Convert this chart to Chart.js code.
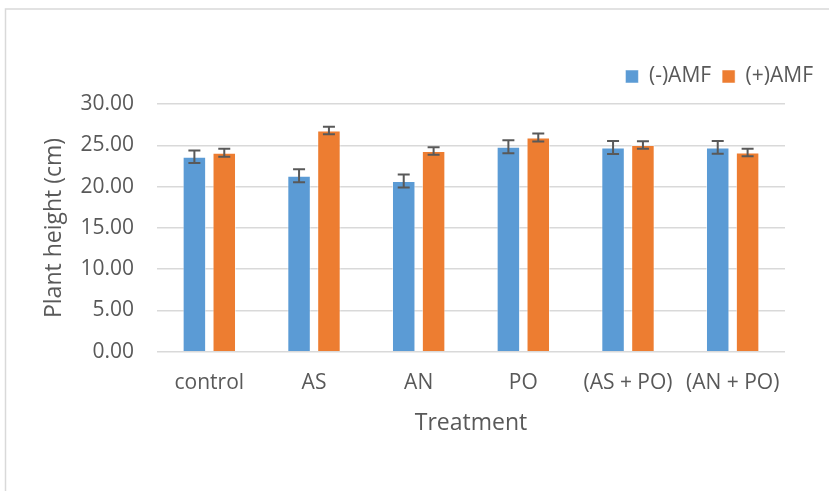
<!DOCTYPE html>
<html lang="en">
<head>
    <meta charset="UTF-8">
    <title>Plant height by treatment</title>
    <script src="https://cdn.jsdelivr.net/npm/chart.js"></script>
    <style>
        body {
            margin: 0;
            background: #fff;
        }
        #plantChart {
            display: block;
        }
    </style>
</head>
<body>
    <canvas id="plantChart" width="829" height="491"></canvas>
<script>
    // Podaci procitani sa grafa
    const treatments = ['control', 'AS', 'AN', 'PO', '(AS + PO)', '(AN + PO)'];
    const seriesNames = ['(-)AMF', '(+)AMF'];
    const minusAMF = [23.63, 21.32, 20.68, 24.84, 24.76, 24.76];
    const minusAMFErr = [0.77, 0.79, 0.79, 0.79, 0.79, 0.77];
    const plusAMF = [24.12, 26.82, 24.32, 25.97, 25.05, 24.15];
    const plusAMFErr = [0.49, 0.46, 0.46, 0.49, 0.45, 0.46];
    const yTicks = [0, 5, 10, 15, 20, 25, 30];

    const textColor = '#595959';
    const gridColor = '#d9d9d9';
    const fontFamily = "'Open Sans', 'Noto Sans', sans-serif";

    // siva okvir oko cijelog grafa
    const frame = {
        id: 'frame',
        beforeDraw(chart) {
            const ctx = chart.ctx;
            ctx.save();
            ctx.fillStyle = '#fff';
            ctx.fillRect(0, 0, chart.width, chart.height);
            ctx.strokeStyle = gridColor;
            ctx.lineWidth = 1.5;
            ctx.strokeRect(5.5, 9, 900, 600);
            ctx.restore();
        }
    };

    // error barovi preko skale
    const errorBars = {
        id: 'errorBars',
        afterDatasetsDraw(chart) {
            const ctx = chart.ctx;
            const y = chart.scales.y;
            ctx.save();
            ctx.strokeStyle = '#595959';
            ctx.lineWidth = 2;
            chart.data.datasets.forEach((ds, i) => {
                const meta = chart.getDatasetMeta(i);
                meta.data.forEach((bar, j) => {
                    const v = ds.data[j];
                    const e = ds.errors[j];
                    const top = y.getPixelForValue(v + e);
                    const bot = y.getPixelForValue(v - e);
                    const cap = 6;
                    ctx.beginPath();
                    ctx.moveTo(bar.x, top);
                    ctx.lineTo(bar.x, bot);
                    ctx.moveTo(bar.x - cap, top);
                    ctx.lineTo(bar.x + cap, top);
                    ctx.moveTo(bar.x - cap, bot);
                    ctx.lineTo(bar.x + cap, bot);
                    ctx.stroke();
                });
            });
            ctx.restore();
        }
    };

    const ctx = document.getElementById('plantChart').getContext('2d');
    const chart = new Chart(ctx, {
        type: 'bar',
        data: {
            labels: treatments,
            datasets: [{
                label: seriesNames[0],
                data: minusAMF,
                errors: minusAMFErr,
                backgroundColor: '#5B9BD5',
                borderColor: 'rgba(255,255,255,0.5)',
                borderWidth: 1
            }, {
                label: seriesNames[1],
                data: plusAMF,
                errors: plusAMFErr,
                backgroundColor: '#ED7D31',
                borderColor: 'rgba(255,255,255,0.5)',
                borderWidth: 1
            }]
        },
        options: {
            responsive: false,
            animation: false,
            categoryPercentage: 0.571,
            barPercentage: 0.786,
            layout: {
                padding: { top: 55, right: 5, bottom: 39.3, left: 0 }
            },
            plugins: {
                tooltip: { enabled: false },
                legend: {
                    position: 'top',
                    align: 'end',
                    labels: {
                        boxWidth: 13,
                        boxHeight: 13,
                        padding: 11,
                        color: textColor,
                        font: { family: fontFamily, size: 21 }
                    }
                }
            },
            scales: {
                x: {
                    grid: { display: false, drawTicks: false },
                    border: { display: false },
                    ticks: {
                        color: textColor,
                        padding: 19,
                        maxRotation: 0,
                        font: { family: fontFamily, size: 21 }
                    },
                    title: {
                        display: true,
                        text: 'Treatment',
                        color: textColor,
                        padding: { top: 0, bottom: 14.8 },
                        font: { family: fontFamily, size: 23 }
                    },
                    afterFit(s) { s.height = 100; }
                },
                // prazna os samo za razmak ispod legende
                xTop: {
                    type: 'category',
                    position: 'top',
                    grid: { display: false, drawTicks: false },
                    border: { display: false },
                    ticks: { display: false },
                    afterFit(s) { s.height = 7.2; }
                },
                y: {
                    min: 0,
                    max: 30,
                    afterBuildTicks(s) {
                        s.ticks = yTicks.map(v => ({ value: v }));
                    },
                    grid: {
                        color: gridColor,
                        lineWidth: 1.5,
                        drawTicks: false
                    },
                    border: { display: false },
                    ticks: {
                        color: textColor,
                        padding: 23,
                        font: { family: fontFamily, size: 21 },
                        callback: v => Number(v).toFixed(2)
                    },
                    title: {
                        display: true,
                        text: 'Plant height (cm)',
                        color: textColor,
                        padding: { top: 41, bottom: 0 },
                        font: { family: fontFamily, size: 23 }
                    },
                    afterFit(s) { s.width = 157; }
                },
                // prazna desna os za razmak do legende
                yRight: {
                    type: 'linear',
                    position: 'right',
                    grid: { display: false, drawTicks: false },
                    border: { display: false },
                    ticks: { display: false },
                    afterFit(s) { s.width = 39; }
                }
            }
        },
        plugins: [frame, errorBars]
    });
</script>
</body>
</html>
